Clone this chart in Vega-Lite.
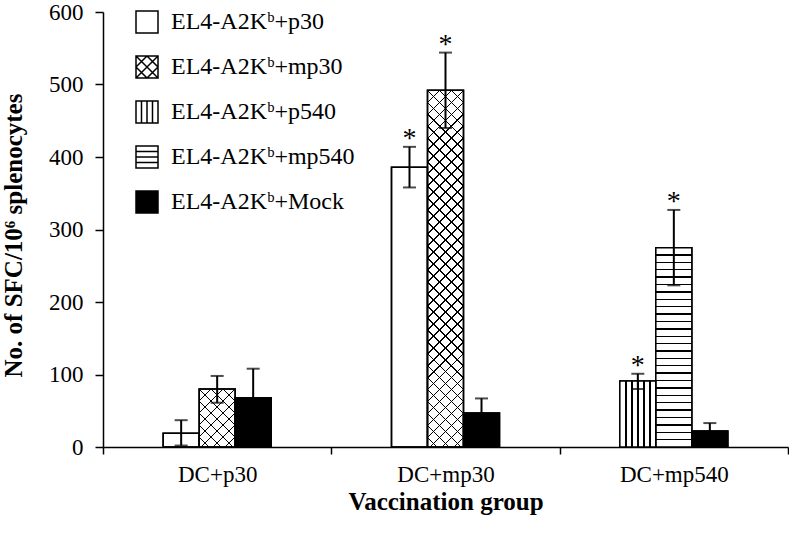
{
  "$schema": "https://vega.github.io/schema/vega-lite/v6.json",
  "width": 685,
  "height": 435,
  "autosize": "none",
  "padding": {"left": 103, "top": 12, "right": 1, "bottom": 86},
  "background": "white",
  "config": {
    "view": {"stroke": null},
    "font": "Liberation Serif",
    "axis": {"labelFont": "Liberation Serif", "titleFont": "Liberation Serif", "labelColor": "black", "titleColor": "black", "domainColor": "black", "tickColor": "black", "domainWidth": 1.5, "tickWidth": 1.5, "grid": false, "labelFontSize": 23, "titleFontSize": 25, "titleFontWeight": "bold"}
  },
  "data": {
    "values": [
      {"group": "DC+p30", "pos": "a", "series": "EL4-A2Kᵇ+p30", "value": 19, "lo": 2, "hi": 37, "sig": ""},
      {"group": "DC+p30", "pos": "b", "series": "EL4-A2Kᵇ+mp30", "value": 80, "lo": 61, "hi": 98, "sig": ""},
      {"group": "DC+p30", "pos": "c", "series": "EL4-A2Kᵇ+Mock", "value": 68, "lo": 28, "hi": 108, "sig": ""},
      {"group": "DC+mp30", "pos": "a", "series": "EL4-A2Kᵇ+p30", "value": 386, "lo": 358, "hi": 414, "sig": "*"},
      {"group": "DC+mp30", "pos": "b", "series": "EL4-A2Kᵇ+mp30", "value": 492, "lo": 440, "hi": 544, "sig": "*"},
      {"group": "DC+mp30", "pos": "c", "series": "EL4-A2Kᵇ+Mock", "value": 47, "lo": 27, "hi": 67, "sig": ""},
      {"group": "DC+mp540", "pos": "a", "series": "EL4-A2Kᵇ+p540", "value": 91, "lo": 80, "hi": 101, "sig": "*"},
      {"group": "DC+mp540", "pos": "b", "series": "EL4-A2Kᵇ+mp540", "value": 275, "lo": 223, "hi": 327, "sig": "*"},
      {"group": "DC+mp540", "pos": "c", "series": "EL4-A2Kᵇ+Mock", "value": 22, "lo": 11, "hi": 33, "sig": ""}
    ]
  },
  "encoding": {
    "x": {"field": "group", "type": "nominal", "sort": ["DC+p30", "DC+mp30", "DC+mp540"],
      "scale": {"paddingInner": 0, "paddingOuter": 0},
      "axis": {"title": "Vaccination group", "labelAngle": 0, "tickBand": "extent", "tickSize": 7, "labelPadding": 9, "titleY": 62, "titleBaseline": "alphabetic"}},
    "xOffset": {"field": "pos", "type": "nominal", "scale": {"domain": ["l", "a", "b", "c", "r"], "paddingInner": 0, "paddingOuter": 0.671}}
  },
  "layer": [
    {
      "mark": {"type": "bar", "stroke": "black", "strokeWidth": 1.5},
      "encoding": {
        "y": {"field": "value", "type": "quantitative", "scale": {"domain": [0, 600], "nice": false},
          "axis": {"title": "No. of SFC/10⁶ splenocytes", "values": [0, 100, 200, 300, 400, 500, 600], "tickSize": 8, "labelPadding": 12, "titleAngle": -90, "titleX": -82, "titleY": 223, "titleBaseline": "alphabetic", "titleAlign": "center"}},
        "color": {"field": "series", "type": "nominal",
          "scale": {"domain": ["EL4-A2Kᵇ+p30", "EL4-A2Kᵇ+mp30", "EL4-A2Kᵇ+p540", "EL4-A2Kᵇ+mp540", "EL4-A2Kᵇ+Mock"], "range": ["white", "white", "white", "white", "black"]},
          "legend": {"orient": "none", "legendX": 32, "legendY": -2, "title": null, "symbolSize": 484, "symbolStrokeColor": "black", "symbolStrokeWidth": 1.5, "symbolOpacity": 1,
            "labelFont": "Liberation Serif", "labelFontSize": 24, "labelColor": "black", "rowPadding": 17, "labelOffset": 12, "padding": 0, "labelLimit": 400,
            "encode": {"symbols": {"update": {"shape": {"signal": "datum.value === 'EL4-A2Kᵇ+mp30' ? 'M-1,-1H1V1H-1Z M-1,0L0,-1 M-1,1L1,-1 M0,1L1,0 M-1,0L0,1 M-1,-1L1,1 M0,-1L1,0' : datum.value === 'EL4-A2Kᵇ+p540' ? 'M-1,-1H1V1H-1Z M-0.5,-1V1 M0,-1V1 M0.5,-1V1' : datum.value === 'EL4-A2Kᵇ+mp540' ? 'M-1,-1H1V1H-1Z M-1,-0.5H1 M-1,0H1 M-1,0.5H1' : 'square'"}}}}}
        }
      }
    },
    {
      "transform": [{"filter": "datum.series === 'EL4-A2Kᵇ+p540'"}],
      "mark": {"type": "bar", "fill": {"gradient": "linear", "x1": 0, "y1": 0, "x2": 1, "y2": 0, "stops": [
        {"offset": 0, "color": "white"},
        {"offset": 0.147, "color": "white"}, {"offset": 0.147, "color": "black"}, {"offset": 0.187, "color": "black"}, {"offset": 0.187, "color": "white"},
        {"offset": 0.313, "color": "white"}, {"offset": 0.313, "color": "black"}, {"offset": 0.353, "color": "black"}, {"offset": 0.353, "color": "white"},
        {"offset": 0.48, "color": "white"}, {"offset": 0.48, "color": "black"}, {"offset": 0.52, "color": "black"}, {"offset": 0.52, "color": "white"},
        {"offset": 0.647, "color": "white"}, {"offset": 0.647, "color": "black"}, {"offset": 0.687, "color": "black"}, {"offset": 0.687, "color": "white"},
        {"offset": 0.813, "color": "white"}, {"offset": 0.813, "color": "black"}, {"offset": 0.853, "color": "black"}, {"offset": 0.853, "color": "white"},
        {"offset": 1, "color": "white"}]}},
      "encoding": {"y": {"field": "value", "type": "quantitative"}}
    },
    {
      "transform": [{"filter": "datum.series === 'EL4-A2Kᵇ+mp540'"}],
      "mark": {"type": "bar", "fill": {"gradient": "linear", "x1": 0, "y1": 0, "x2": 0, "y2": 1, "stops": [
        {"offset": 0, "color": "white"},
        {"offset": 0.0335, "color": "white"}, {"offset": 0.0335, "color": "black"}, {"offset": 0.0405, "color": "black"}, {"offset": 0.0405, "color": "white"},
        {"offset": 0.0706, "color": "white"}, {"offset": 0.0706, "color": "black"}, {"offset": 0.0776, "color": "black"}, {"offset": 0.0776, "color": "white"},
        {"offset": 0.1076, "color": "white"}, {"offset": 0.1076, "color": "black"}, {"offset": 0.1146, "color": "black"}, {"offset": 0.1146, "color": "white"},
        {"offset": 0.1446, "color": "white"}, {"offset": 0.1446, "color": "black"}, {"offset": 0.1516, "color": "black"}, {"offset": 0.1516, "color": "white"},
        {"offset": 0.1817, "color": "white"}, {"offset": 0.1817, "color": "black"}, {"offset": 0.1887, "color": "black"}, {"offset": 0.1887, "color": "white"},
        {"offset": 0.2187, "color": "white"}, {"offset": 0.2187, "color": "black"}, {"offset": 0.2257, "color": "black"}, {"offset": 0.2257, "color": "white"},
        {"offset": 0.2558, "color": "white"}, {"offset": 0.2558, "color": "black"}, {"offset": 0.2628, "color": "black"}, {"offset": 0.2628, "color": "white"},
        {"offset": 0.2928, "color": "white"}, {"offset": 0.2928, "color": "black"}, {"offset": 0.2998, "color": "black"}, {"offset": 0.2998, "color": "white"},
        {"offset": 0.3298, "color": "white"}, {"offset": 0.3298, "color": "black"}, {"offset": 0.3368, "color": "black"}, {"offset": 0.3368, "color": "white"},
        {"offset": 0.3669, "color": "white"}, {"offset": 0.3669, "color": "black"}, {"offset": 0.3739, "color": "black"}, {"offset": 0.3739, "color": "white"},
        {"offset": 0.4039, "color": "white"}, {"offset": 0.4039, "color": "black"}, {"offset": 0.4109, "color": "black"}, {"offset": 0.4109, "color": "white"},
        {"offset": 0.4409, "color": "white"}, {"offset": 0.4409, "color": "black"}, {"offset": 0.4479, "color": "black"}, {"offset": 0.4479, "color": "white"},
        {"offset": 0.478, "color": "white"}, {"offset": 0.478, "color": "black"}, {"offset": 0.485, "color": "black"}, {"offset": 0.485, "color": "white"},
        {"offset": 0.515, "color": "white"}, {"offset": 0.515, "color": "black"}, {"offset": 0.522, "color": "black"}, {"offset": 0.522, "color": "white"},
        {"offset": 0.5521, "color": "white"}, {"offset": 0.5521, "color": "black"}, {"offset": 0.5591, "color": "black"}, {"offset": 0.5591, "color": "white"},
        {"offset": 0.5891, "color": "white"}, {"offset": 0.5891, "color": "black"}, {"offset": 0.5961, "color": "black"}, {"offset": 0.5961, "color": "white"},
        {"offset": 0.6261, "color": "white"}, {"offset": 0.6261, "color": "black"}, {"offset": 0.6331, "color": "black"}, {"offset": 0.6331, "color": "white"},
        {"offset": 0.6632, "color": "white"}, {"offset": 0.6632, "color": "black"}, {"offset": 0.6702, "color": "black"}, {"offset": 0.6702, "color": "white"},
        {"offset": 0.7002, "color": "white"}, {"offset": 0.7002, "color": "black"}, {"offset": 0.7072, "color": "black"}, {"offset": 0.7072, "color": "white"},
        {"offset": 0.7372, "color": "white"}, {"offset": 0.7372, "color": "black"}, {"offset": 0.7442, "color": "black"}, {"offset": 0.7442, "color": "white"},
        {"offset": 0.7743, "color": "white"}, {"offset": 0.7743, "color": "black"}, {"offset": 0.7813, "color": "black"}, {"offset": 0.7813, "color": "white"},
        {"offset": 0.8113, "color": "white"}, {"offset": 0.8113, "color": "black"}, {"offset": 0.8183, "color": "black"}, {"offset": 0.8183, "color": "white"},
        {"offset": 0.8484, "color": "white"}, {"offset": 0.8484, "color": "black"}, {"offset": 0.8554, "color": "black"}, {"offset": 0.8554, "color": "white"},
        {"offset": 0.8854, "color": "white"}, {"offset": 0.8854, "color": "black"}, {"offset": 0.8924, "color": "black"}, {"offset": 0.8924, "color": "white"},
        {"offset": 0.9224, "color": "white"}, {"offset": 0.9224, "color": "black"}, {"offset": 0.9294, "color": "black"}, {"offset": 0.9294, "color": "white"},
        {"offset": 0.9595, "color": "white"}, {"offset": 0.9595, "color": "black"}, {"offset": 0.9665, "color": "black"}, {"offset": 0.9665, "color": "white"},
        {"offset": 1, "color": "white"}]}},
      "encoding": {"y": {"field": "value", "type": "quantitative"}}
    },
    {
      "transform": [{"filter": "datum.series === 'EL4-A2Kᵇ+mp30' && datum.group === 'DC+mp30'"}],
      "mark": {"type": "bar", "fill": {"gradient": "linear", "x1": 0, "y1": 0, "x2": 0.11, "y2": 1.09, "stops": [
        {"offset": 0, "color": "transparent"},
        {"offset": 0.0287, "color": "transparent"}, {"offset": 0.0287, "color": "black"}, {"offset": 0.0323, "color": "black"}, {"offset": 0.0323, "color": "transparent"},
        {"offset": 0.0592, "color": "transparent"}, {"offset": 0.0592, "color": "black"}, {"offset": 0.0628, "color": "black"}, {"offset": 0.0628, "color": "transparent"},
        {"offset": 0.0897, "color": "transparent"}, {"offset": 0.0897, "color": "black"}, {"offset": 0.0933, "color": "black"}, {"offset": 0.0933, "color": "transparent"},
        {"offset": 0.1202, "color": "transparent"}, {"offset": 0.1202, "color": "black"}, {"offset": 0.1238, "color": "black"}, {"offset": 0.1238, "color": "transparent"},
        {"offset": 0.1507, "color": "transparent"}, {"offset": 0.1507, "color": "black"}, {"offset": 0.1543, "color": "black"}, {"offset": 0.1543, "color": "transparent"},
        {"offset": 0.1812, "color": "transparent"}, {"offset": 0.1812, "color": "black"}, {"offset": 0.1848, "color": "black"}, {"offset": 0.1848, "color": "transparent"},
        {"offset": 0.2117, "color": "transparent"}, {"offset": 0.2117, "color": "black"}, {"offset": 0.2153, "color": "black"}, {"offset": 0.2153, "color": "transparent"},
        {"offset": 0.2422, "color": "transparent"}, {"offset": 0.2422, "color": "black"}, {"offset": 0.2458, "color": "black"}, {"offset": 0.2458, "color": "transparent"},
        {"offset": 0.2727, "color": "transparent"}, {"offset": 0.2727, "color": "black"}, {"offset": 0.2763, "color": "black"}, {"offset": 0.2763, "color": "transparent"},
        {"offset": 0.3032, "color": "transparent"}, {"offset": 0.3032, "color": "black"}, {"offset": 0.3068, "color": "black"}, {"offset": 0.3068, "color": "transparent"},
        {"offset": 0.3337, "color": "transparent"}, {"offset": 0.3337, "color": "black"}, {"offset": 0.3373, "color": "black"}, {"offset": 0.3373, "color": "transparent"},
        {"offset": 0.3642, "color": "transparent"}, {"offset": 0.3642, "color": "black"}, {"offset": 0.3678, "color": "black"}, {"offset": 0.3678, "color": "transparent"},
        {"offset": 0.3947, "color": "transparent"}, {"offset": 0.3947, "color": "black"}, {"offset": 0.3983, "color": "black"}, {"offset": 0.3983, "color": "transparent"},
        {"offset": 0.4252, "color": "transparent"}, {"offset": 0.4252, "color": "black"}, {"offset": 0.4288, "color": "black"}, {"offset": 0.4288, "color": "transparent"},
        {"offset": 0.4557, "color": "transparent"}, {"offset": 0.4557, "color": "black"}, {"offset": 0.4593, "color": "black"}, {"offset": 0.4593, "color": "transparent"},
        {"offset": 0.4862, "color": "transparent"}, {"offset": 0.4862, "color": "black"}, {"offset": 0.4898, "color": "black"}, {"offset": 0.4898, "color": "transparent"},
        {"offset": 0.5167, "color": "transparent"}, {"offset": 0.5167, "color": "black"}, {"offset": 0.5203, "color": "black"}, {"offset": 0.5203, "color": "transparent"},
        {"offset": 0.5472, "color": "transparent"}, {"offset": 0.5472, "color": "black"}, {"offset": 0.5508, "color": "black"}, {"offset": 0.5508, "color": "transparent"},
        {"offset": 0.5777, "color": "transparent"}, {"offset": 0.5777, "color": "black"}, {"offset": 0.5813, "color": "black"}, {"offset": 0.5813, "color": "transparent"},
        {"offset": 0.6082, "color": "transparent"}, {"offset": 0.6082, "color": "black"}, {"offset": 0.6118, "color": "black"}, {"offset": 0.6118, "color": "transparent"},
        {"offset": 0.6387, "color": "transparent"}, {"offset": 0.6387, "color": "black"}, {"offset": 0.6423, "color": "black"}, {"offset": 0.6423, "color": "transparent"},
        {"offset": 0.6692, "color": "transparent"}, {"offset": 0.6692, "color": "black"}, {"offset": 0.6728, "color": "black"}, {"offset": 0.6728, "color": "transparent"},
        {"offset": 0.6997, "color": "transparent"}, {"offset": 0.6997, "color": "black"}, {"offset": 0.7033, "color": "black"}, {"offset": 0.7033, "color": "transparent"},
        {"offset": 0.7302, "color": "transparent"}, {"offset": 0.7302, "color": "black"}, {"offset": 0.7338, "color": "black"}, {"offset": 0.7338, "color": "transparent"},
        {"offset": 0.7607, "color": "transparent"}, {"offset": 0.7607, "color": "black"}, {"offset": 0.7643, "color": "black"}, {"offset": 0.7643, "color": "transparent"},
        {"offset": 0.7912, "color": "transparent"}, {"offset": 0.7912, "color": "black"}, {"offset": 0.7948, "color": "black"}, {"offset": 0.7948, "color": "transparent"},
        {"offset": 0.8217, "color": "transparent"}, {"offset": 0.8217, "color": "black"}, {"offset": 0.8253, "color": "black"}, {"offset": 0.8253, "color": "transparent"},
        {"offset": 0.8522, "color": "transparent"}, {"offset": 0.8522, "color": "black"}, {"offset": 0.8558, "color": "black"}, {"offset": 0.8558, "color": "transparent"},
        {"offset": 0.8827, "color": "transparent"}, {"offset": 0.8827, "color": "black"}, {"offset": 0.8863, "color": "black"}, {"offset": 0.8863, "color": "transparent"},
        {"offset": 0.9132, "color": "transparent"}, {"offset": 0.9132, "color": "black"}, {"offset": 0.9168, "color": "black"}, {"offset": 0.9168, "color": "transparent"},
        {"offset": 0.9437, "color": "transparent"}, {"offset": 0.9437, "color": "black"}, {"offset": 0.9473, "color": "black"}, {"offset": 0.9473, "color": "transparent"},
        {"offset": 0.9742, "color": "transparent"}, {"offset": 0.9742, "color": "black"}, {"offset": 0.9778, "color": "black"}, {"offset": 0.9778, "color": "transparent"},
        {"offset": 1, "color": "transparent"}]}},
      "encoding": {"y": {"field": "value", "type": "quantitative"}}
    },
    {
      "transform": [{"filter": "datum.series === 'EL4-A2Kᵇ+mp30' && datum.group === 'DC+mp30'"}],
      "mark": {"type": "bar", "fill": {"gradient": "linear", "x1": 1, "y1": 0, "x2": 0.89, "y2": 1.09, "stops": [
        {"offset": 0, "color": "transparent"},
        {"offset": 0.0287, "color": "transparent"}, {"offset": 0.0287, "color": "black"}, {"offset": 0.0323, "color": "black"}, {"offset": 0.0323, "color": "transparent"},
        {"offset": 0.0592, "color": "transparent"}, {"offset": 0.0592, "color": "black"}, {"offset": 0.0628, "color": "black"}, {"offset": 0.0628, "color": "transparent"},
        {"offset": 0.0897, "color": "transparent"}, {"offset": 0.0897, "color": "black"}, {"offset": 0.0933, "color": "black"}, {"offset": 0.0933, "color": "transparent"},
        {"offset": 0.1202, "color": "transparent"}, {"offset": 0.1202, "color": "black"}, {"offset": 0.1238, "color": "black"}, {"offset": 0.1238, "color": "transparent"},
        {"offset": 0.1507, "color": "transparent"}, {"offset": 0.1507, "color": "black"}, {"offset": 0.1543, "color": "black"}, {"offset": 0.1543, "color": "transparent"},
        {"offset": 0.1812, "color": "transparent"}, {"offset": 0.1812, "color": "black"}, {"offset": 0.1848, "color": "black"}, {"offset": 0.1848, "color": "transparent"},
        {"offset": 0.2117, "color": "transparent"}, {"offset": 0.2117, "color": "black"}, {"offset": 0.2153, "color": "black"}, {"offset": 0.2153, "color": "transparent"},
        {"offset": 0.2422, "color": "transparent"}, {"offset": 0.2422, "color": "black"}, {"offset": 0.2458, "color": "black"}, {"offset": 0.2458, "color": "transparent"},
        {"offset": 0.2727, "color": "transparent"}, {"offset": 0.2727, "color": "black"}, {"offset": 0.2763, "color": "black"}, {"offset": 0.2763, "color": "transparent"},
        {"offset": 0.3032, "color": "transparent"}, {"offset": 0.3032, "color": "black"}, {"offset": 0.3068, "color": "black"}, {"offset": 0.3068, "color": "transparent"},
        {"offset": 0.3337, "color": "transparent"}, {"offset": 0.3337, "color": "black"}, {"offset": 0.3373, "color": "black"}, {"offset": 0.3373, "color": "transparent"},
        {"offset": 0.3642, "color": "transparent"}, {"offset": 0.3642, "color": "black"}, {"offset": 0.3678, "color": "black"}, {"offset": 0.3678, "color": "transparent"},
        {"offset": 0.3947, "color": "transparent"}, {"offset": 0.3947, "color": "black"}, {"offset": 0.3983, "color": "black"}, {"offset": 0.3983, "color": "transparent"},
        {"offset": 0.4252, "color": "transparent"}, {"offset": 0.4252, "color": "black"}, {"offset": 0.4288, "color": "black"}, {"offset": 0.4288, "color": "transparent"},
        {"offset": 0.4557, "color": "transparent"}, {"offset": 0.4557, "color": "black"}, {"offset": 0.4593, "color": "black"}, {"offset": 0.4593, "color": "transparent"},
        {"offset": 0.4862, "color": "transparent"}, {"offset": 0.4862, "color": "black"}, {"offset": 0.4898, "color": "black"}, {"offset": 0.4898, "color": "transparent"},
        {"offset": 0.5167, "color": "transparent"}, {"offset": 0.5167, "color": "black"}, {"offset": 0.5203, "color": "black"}, {"offset": 0.5203, "color": "transparent"},
        {"offset": 0.5472, "color": "transparent"}, {"offset": 0.5472, "color": "black"}, {"offset": 0.5508, "color": "black"}, {"offset": 0.5508, "color": "transparent"},
        {"offset": 0.5777, "color": "transparent"}, {"offset": 0.5777, "color": "black"}, {"offset": 0.5813, "color": "black"}, {"offset": 0.5813, "color": "transparent"},
        {"offset": 0.6082, "color": "transparent"}, {"offset": 0.6082, "color": "black"}, {"offset": 0.6118, "color": "black"}, {"offset": 0.6118, "color": "transparent"},
        {"offset": 0.6387, "color": "transparent"}, {"offset": 0.6387, "color": "black"}, {"offset": 0.6423, "color": "black"}, {"offset": 0.6423, "color": "transparent"},
        {"offset": 0.6692, "color": "transparent"}, {"offset": 0.6692, "color": "black"}, {"offset": 0.6728, "color": "black"}, {"offset": 0.6728, "color": "transparent"},
        {"offset": 0.6997, "color": "transparent"}, {"offset": 0.6997, "color": "black"}, {"offset": 0.7033, "color": "black"}, {"offset": 0.7033, "color": "transparent"},
        {"offset": 0.7302, "color": "transparent"}, {"offset": 0.7302, "color": "black"}, {"offset": 0.7338, "color": "black"}, {"offset": 0.7338, "color": "transparent"},
        {"offset": 0.7607, "color": "transparent"}, {"offset": 0.7607, "color": "black"}, {"offset": 0.7643, "color": "black"}, {"offset": 0.7643, "color": "transparent"},
        {"offset": 0.7912, "color": "transparent"}, {"offset": 0.7912, "color": "black"}, {"offset": 0.7948, "color": "black"}, {"offset": 0.7948, "color": "transparent"},
        {"offset": 0.8217, "color": "transparent"}, {"offset": 0.8217, "color": "black"}, {"offset": 0.8253, "color": "black"}, {"offset": 0.8253, "color": "transparent"},
        {"offset": 0.8522, "color": "transparent"}, {"offset": 0.8522, "color": "black"}, {"offset": 0.8558, "color": "black"}, {"offset": 0.8558, "color": "transparent"},
        {"offset": 0.8827, "color": "transparent"}, {"offset": 0.8827, "color": "black"}, {"offset": 0.8863, "color": "black"}, {"offset": 0.8863, "color": "transparent"},
        {"offset": 0.9132, "color": "transparent"}, {"offset": 0.9132, "color": "black"}, {"offset": 0.9168, "color": "black"}, {"offset": 0.9168, "color": "transparent"},
        {"offset": 0.9437, "color": "transparent"}, {"offset": 0.9437, "color": "black"}, {"offset": 0.9473, "color": "black"}, {"offset": 0.9473, "color": "transparent"},
        {"offset": 0.9742, "color": "transparent"}, {"offset": 0.9742, "color": "black"}, {"offset": 0.9778, "color": "black"}, {"offset": 0.9778, "color": "transparent"},
        {"offset": 1, "color": "transparent"}]}},
      "encoding": {"y": {"field": "value", "type": "quantitative"}}
    },
    {
      "transform": [{"filter": "datum.series === 'EL4-A2Kᵇ+mp30' && datum.group === 'DC+p30'"}],
      "mark": {"type": "bar", "fill": {"gradient": "linear", "x1": 0, "y1": 0, "x2": 0.7263, "y2": 1.17, "stops": [
        {"offset": 0, "color": "transparent"},
        {"offset": 0.1202, "color": "transparent"}, {"offset": 0.1202, "color": "black"}, {"offset": 0.1352, "color": "black"}, {"offset": 0.1352, "color": "transparent"},
        {"offset": 0.2478, "color": "transparent"}, {"offset": 0.2478, "color": "black"}, {"offset": 0.2628, "color": "black"}, {"offset": 0.2628, "color": "transparent"},
        {"offset": 0.3755, "color": "transparent"}, {"offset": 0.3755, "color": "black"}, {"offset": 0.3905, "color": "black"}, {"offset": 0.3905, "color": "transparent"},
        {"offset": 0.5031, "color": "transparent"}, {"offset": 0.5031, "color": "black"}, {"offset": 0.5181, "color": "black"}, {"offset": 0.5181, "color": "transparent"},
        {"offset": 0.6308, "color": "transparent"}, {"offset": 0.6308, "color": "black"}, {"offset": 0.6458, "color": "black"}, {"offset": 0.6458, "color": "transparent"},
        {"offset": 0.7585, "color": "transparent"}, {"offset": 0.7585, "color": "black"}, {"offset": 0.7735, "color": "black"}, {"offset": 0.7735, "color": "transparent"},
        {"offset": 0.8861, "color": "transparent"}, {"offset": 0.8861, "color": "black"}, {"offset": 0.9011, "color": "black"}, {"offset": 0.9011, "color": "transparent"},
        {"offset": 1, "color": "transparent"}]}},
      "encoding": {"y": {"field": "value", "type": "quantitative"}}
    },
    {
      "transform": [{"filter": "datum.series === 'EL4-A2Kᵇ+mp30' && datum.group === 'DC+p30'"}],
      "mark": {"type": "bar", "fill": {"gradient": "linear", "x1": 1, "y1": 0, "x2": 0.2737, "y2": 1.17, "stops": [
        {"offset": 0, "color": "transparent"},
        {"offset": 0.1202, "color": "transparent"}, {"offset": 0.1202, "color": "black"}, {"offset": 0.1352, "color": "black"}, {"offset": 0.1352, "color": "transparent"},
        {"offset": 0.2478, "color": "transparent"}, {"offset": 0.2478, "color": "black"}, {"offset": 0.2628, "color": "black"}, {"offset": 0.2628, "color": "transparent"},
        {"offset": 0.3755, "color": "transparent"}, {"offset": 0.3755, "color": "black"}, {"offset": 0.3905, "color": "black"}, {"offset": 0.3905, "color": "transparent"},
        {"offset": 0.5031, "color": "transparent"}, {"offset": 0.5031, "color": "black"}, {"offset": 0.5181, "color": "black"}, {"offset": 0.5181, "color": "transparent"},
        {"offset": 0.6308, "color": "transparent"}, {"offset": 0.6308, "color": "black"}, {"offset": 0.6458, "color": "black"}, {"offset": 0.6458, "color": "transparent"},
        {"offset": 0.7585, "color": "transparent"}, {"offset": 0.7585, "color": "black"}, {"offset": 0.7735, "color": "black"}, {"offset": 0.7735, "color": "transparent"},
        {"offset": 0.8861, "color": "transparent"}, {"offset": 0.8861, "color": "black"}, {"offset": 0.9011, "color": "black"}, {"offset": 0.9011, "color": "transparent"},
        {"offset": 1, "color": "transparent"}]}},
      "encoding": {"y": {"field": "value", "type": "quantitative"}}
    },
    {
      "mark": {"type": "bar", "fillOpacity": 0, "stroke": "black", "strokeWidth": 1.5},
      "encoding": {"y": {"field": "value", "type": "quantitative"}}
    },
    {
      "mark": {"type": "rule", "color": "black", "strokeWidth": 2},
      "encoding": {"y": {"field": "lo", "type": "quantitative"}, "y2": {"field": "hi"}}
    },
    {
      "mark": {"type": "tick", "color": "black", "size": 13, "thickness": 2},
      "encoding": {"y": {"field": "hi", "type": "quantitative"}}
    },
    {
      "mark": {"type": "tick", "color": "black", "size": 13, "thickness": 2},
      "encoding": {"y": {"field": "lo", "type": "quantitative"}}
    },
    {
      "transform": [{"filter": "datum.sig === '*'"}],
      "mark": {"type": "text", "text": "*", "font": "Liberation Serif", "fontSize": 28, "baseline": "alphabetic", "dy": 0, "color": "black"},
      "encoding": {"y": {"field": "hi", "type": "quantitative"}}
    }
  ]
}
